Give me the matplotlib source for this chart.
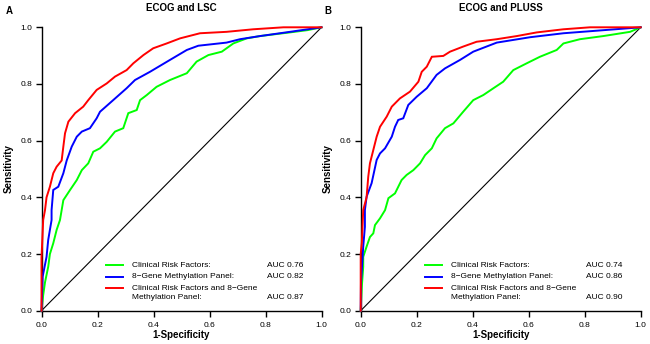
import matplotlib
matplotlib.use("Agg")
import matplotlib.pyplot as plt

plt.rcParams['font.family'] = ['Liberation Sans', 'DejaVu Sans']

# Panel A: ECOG and LSC
a_clin_x = [0, 0.006, 0.0125, 0.024, 0.03, 0.042, 0.054, 0.066, 0.072, 0.078, 0.102, 0.126, 0.144, 0.167,
            0.185, 0.209, 0.233, 0.2625, 0.292, 0.31, 0.34, 0.352, 0.376, 0.411, 0.459, 0.519, 0.554, 0.596,
            0.644, 0.685, 0.733, 0.78, 0.8875, 0.95, 1.0]
a_clin_y = [0, 0.055, 0.10, 0.155, 0.20, 0.238, 0.285, 0.32, 0.355, 0.39, 0.426, 0.461, 0.496, 0.52,
            0.561, 0.573, 0.596, 0.632, 0.644, 0.697, 0.708, 0.743, 0.761, 0.79, 0.814, 0.838, 0.879, 0.902,
            0.914, 0.943, 0.961, 0.969, 0.982, 0.99, 1.0]
a_meth_x = [0, 0.004, 0.018, 0.024, 0.036, 0.036, 0.042, 0.06, 0.078, 0.09, 0.108, 0.126, 0.144, 0.173,
            0.197, 0.209, 0.256, 0.304, 0.334, 0.3875, 0.459, 0.519, 0.56, 0.661, 0.709, 0.78, 0.8875, 1.0]
a_meth_y = [0, 0.12, 0.19, 0.25, 0.32, 0.355, 0.426, 0.4375, 0.485, 0.53, 0.579, 0.614, 0.632, 0.644,
            0.679, 0.702, 0.743, 0.785, 0.814, 0.843, 0.885, 0.92, 0.935, 0.946, 0.958, 0.969, 0.984, 1.0]
a_comb_x = [0, 0.0, 0.006, 0.0125, 0.018, 0.03, 0.042, 0.054, 0.072, 0.078, 0.084, 0.096, 0.12, 0.149,
            0.167, 0.197, 0.233, 0.2625, 0.304, 0.328, 0.364, 0.399, 0.447, 0.495, 0.566, 0.661, 0.756,
            0.864, 1.0]
a_comb_y = [0, 0.186, 0.32, 0.355, 0.40, 0.4375, 0.485, 0.508, 0.53, 0.579, 0.626, 0.667, 0.697, 0.72,
            0.743, 0.779, 0.802, 0.826, 0.849, 0.873, 0.902, 0.926, 0.943, 0.961, 0.979, 0.984, 0.993,
            1.0, 1.0]

# Panel B: ECOG and PLUSS
b_clin_x = [0, 0.004, 0.009, 0.009, 0.021, 0.033, 0.045, 0.051, 0.069, 0.087, 0.099, 0.1225, 0.146, 0.164,
            0.188, 0.212, 0.23, 0.254, 0.271, 0.301, 0.331, 0.366, 0.402, 0.438, 0.474, 0.509, 0.545,
            0.593, 0.64, 0.7, 0.724, 0.783, 0.866, 0.962, 1.0]
b_clin_y = [0, 0.085, 0.155, 0.19, 0.226, 0.26, 0.273, 0.302, 0.326, 0.355, 0.397, 0.414, 0.461, 0.479,
            0.496, 0.52, 0.549, 0.573, 0.608, 0.644, 0.661, 0.702, 0.743, 0.761, 0.785, 0.808, 0.849,
            0.873, 0.896, 0.92, 0.943, 0.958, 0.969, 0.984, 1.0]
b_meth_x = [0, 0.001, 0.009, 0.015, 0.015, 0.021, 0.039, 0.057, 0.069, 0.087, 0.111, 0.1225, 0.134, 0.152,
            0.17, 0.2, 0.236, 0.271, 0.301, 0.355, 0.402, 0.486, 0.605, 0.724, 0.843, 1.0]
b_meth_y = [0, 0.097, 0.226, 0.296, 0.355, 0.402, 0.45, 0.532, 0.555, 0.573, 0.614, 0.649, 0.673, 0.679,
            0.726, 0.755, 0.785, 0.832, 0.855, 0.885, 0.914, 0.946, 0.965, 0.979, 0.988, 1.0]
b_comb_x = [0, 0.0, 0.004, 0.009, 0.021, 0.027, 0.033, 0.045, 0.057, 0.069, 0.093, 0.111, 0.14, 0.176,
            0.206, 0.218, 0.236, 0.254, 0.295, 0.319, 0.366, 0.414, 0.486, 0.557, 0.629, 0.724, 0.819, 1.0]
b_comb_y = [0, 0.2, 0.24, 0.355, 0.40, 0.473, 0.52, 0.567, 0.614, 0.649, 0.685, 0.72, 0.749, 0.773,
            0.808, 0.843, 0.861, 0.896, 0.899, 0.914, 0.932, 0.949, 0.958, 0.969, 0.982, 0.993, 1.0, 1.0]

titles = ["ECOG and LSC", "ECOG and PLUSS"]
panel_labels = ["A", "B"]
legend_labels = ["Clinical Risk Factors:", "8\u2212Gene Methylation Panel:",
                 "Clinical Risk Factors and 8\u2212Gene"]
legend_cont = "Methylation Panel:"
auc_a = ["AUC 0.76", "AUC 0.82", "AUC 0.87"]
auc_b = ["AUC 0.74", "AUC 0.86", "AUC 0.90"]
colors = ["#00ff00", "#0000ff", "#ff0000"]
ticks = [0.0, 0.2, 0.4, 0.6, 0.8, 1.0]

fig = plt.figure(figsize=(6.5, 3.44), dpi=100)
lefts = [41.5 / 650, 360.7 / 650]
panels = [
    ((a_clin_x, a_clin_y), (a_meth_x, a_meth_y), (a_comb_x, a_comb_y), auc_a),
    ((b_clin_x, b_clin_y), (b_meth_x, b_meth_y), (b_comb_x, b_comb_y), auc_b),
]

for i, (c1, c2, c3, aucs) in enumerate(panels):
    ax = fig.add_axes([lefts[i], 33.3 / 344, 280 / 650, 283.4 / 344])
    ax.set_xlim(0, 1)
    ax.set_ylim(0, 1)
    ax.plot([0, 1], [0, 1], color='black', lw=0.8, clip_on=False, zorder=2)
    for (xs, ys), col in zip((c1, c2, c3), colors):
        ax.plot(xs, ys, color=col, lw=1.4, clip_on=False, zorder=3, solid_joinstyle='miter')
    for s in ['top', 'right']:
        ax.spines[s].set_visible(False)
    for s in ['left', 'bottom']:
        ax.spines[s].set_linewidth(1.0)
    ax.set_xticks(ticks)
    ax.set_yticks(ticks)
    ax.set_xticklabels([f"{t:.1f}" for t in ticks])
    ax.set_yticklabels([f"{t:.1f}" for t in ticks])
    ax.tick_params(direction='out', length=4, width=1.0, labelsize=6)
    ax.tick_params(axis='x', pad=4)
    ax.tick_params(axis='y', pad=2.5)
    ax.set_xlabel("1-Specificity", fontsize=7, fontweight='bold', labelpad=0.5)
    ax.set_ylabel("Sensitivity", fontsize=7, fontweight='bold', labelpad=5)
    ax.set_title(titles[i], fontsize=7, fontweight='bold', pad=12)

    # legend drawn manually
    rows = [0.161, 0.12, 0.079]
    for r, col, lab, auc in zip(rows, colors, legend_labels, aucs):
        ax.plot([0.23, 0.29], [r, r], color=col, lw=1.4, transform=ax.transAxes)
        ax.text(0.322, r, lab, fontsize=6, va='center', transform=ax.transAxes)
    ax.text(0.322, 0.048, legend_cont, fontsize=6, va='center', transform=ax.transAxes)
    for r, auc in zip([0.161, 0.12, 0.048], aucs):
        ax.text(0.804, r, auc, fontsize=6, va='center', transform=ax.transAxes)

    fig.text(lefts[i] - 36 / 650, 1 - 11 / 344, panel_labels[i], fontsize=7,
             fontweight='bold', va='center', ha='left')

fig.savefig("out.png", dpi=100)
